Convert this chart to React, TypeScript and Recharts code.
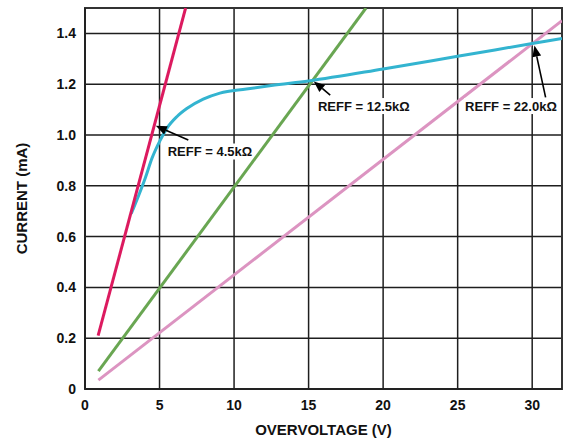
import React from "react"
import {
  LineChart,
  Line,
  XAxis,
  YAxis,
  CartesianGrid,
  ReferenceArea,
  ReferenceLine,
  ReferenceDot,
} from "recharts"

// overvoltage (V) vs current (mA)
const reff45 = [
  { x: 0.88, y: 0.21 },
  { x: 6.75, y: 1.5 },
]
const reff125 = [
  { x: 0.9, y: 0.07 },
  { x: 18.85, y: 1.5 },
]
const reff220 = [
  { x: 0.9, y: 0.035 },
  { x: 32, y: 1.45 },
]
const measured = [
  { x: 3.1, y: 0.69 },
  { x: 3.6, y: 0.762 },
  { x: 4.05, y: 0.832 },
  { x: 4.49, y: 0.908 },
  { x: 5.05, y: 0.98 },
  { x: 5.49, y: 1.026 },
  { x: 6.16, y: 1.072 },
  { x: 6.83, y: 1.104 },
  { x: 7.93, y: 1.141 },
  { x: 9.05, y: 1.165 },
  { x: 10.83, y: 1.181 },
  { x: 12.5, y: 1.195 },
  { x: 15, y: 1.213 },
  { x: 20, y: 1.26 },
  { x: 25, y: 1.31 },
  { x: 30, y: 1.36 },
  { x: 32, y: 1.38 },
]

const xTicks = [0, 5, 10, 15, 20, 25, 30]
const yTicks = [0, 0.2, 0.4, 0.6, 0.8, 1.0, 1.2, 1.4]

// annotation text, where the text starts, and arrow tail -> tip
const notes = [
  { text: "REFF = 4.5kΩ", x: 5.55, y: 0.935, from: { x: 6.93, y: 0.98 }, to: { x: 4.75, y: 1.036 } },
  { text: "REFF = 12.5kΩ", x: 15.63, y: 1.114, from: { x: 16.45, y: 1.157 }, to: { x: 15.35, y: 1.211 } },
  { text: "REFF = 22.0kΩ", x: 25.5, y: 1.114, from: { x: 30.9, y: 1.148 }, to: { x: 30.15, y: 1.352 } },
]

const FONT = "'Liberation Sans', Arial, sans-serif"

const Arrow = (props: any) => {
  const { x1, y1, x2, y2 } = props
  const ang = Math.atan2(y2 - y1, x2 - x1)
  const len = 11
  const w = 4.5
  const bx = x2 - len * Math.cos(ang)
  const by = y2 - len * Math.sin(ang)
  const px = -Math.sin(ang) * w
  const py = Math.cos(ang) * w
  return (
    <g>
      <line x1={x1} y1={y1} x2={bx} y2={by} stroke="#000" strokeWidth={1.6} />
      <polygon points={`${x2},${y2} ${bx + px},${by + py} ${bx - px},${by - py}`} fill="#000" />
    </g>
  )
}

const NoteLabel = (text: string) => (props: any) => {
  const { cx, cy } = props
  return (
    <g>
      <rect x={cx - 1} y={cy - 8} width={text.length * 6.9} height={16} fill="#fff" />
      <text x={cx} y={cy} dy="0.36em" fontSize={13} fontWeight="bold" fontFamily={FONT} fill="#111">
        {text}
      </text>
    </g>
  )
}

export default function App() {
  return (
    <div style={{ position: "absolute", left: 0, top: 0, background: "#fff" }}>
      <LineChart width={564} height={443} margin={{ top: 8, right: 2, bottom: 0, left: 0 }}>
        <CartesianGrid stroke="#1e1e1e" strokeWidth={1.5} />
        <XAxis
          type="number"
          dataKey="x"
          domain={[0, 32]}
          ticks={xTicks}
          allowDataOverflow
          height={54}
          tickSize={0}
          tickMargin={11}
          axisLine={{ stroke: "#222", strokeWidth: 2 }}
          tick={{ fontSize: 14, fontWeight: "bold", fontFamily: FONT, fill: "#111" }}
          label={{
            value: "OVERVOLTAGE (V)",
            position: "center",
            dy: 14,
            style: { fontSize: 15, fontWeight: "bold", fontFamily: FONT, fill: "#111" },
          }}
        />
        <YAxis
          type="number"
          dataKey="y"
          domain={[0, 1.5]}
          ticks={yTicks}
          allowDataOverflow
          width={85}
          tickSize={0}
          tickMargin={9}
          axisLine={{ stroke: "#222", strokeWidth: 2 }}
          tickFormatter={(v: number) => (v === 0 ? "0" : v.toFixed(1))}
          tick={{ fontSize: 14, fontWeight: "bold", fontFamily: FONT, fill: "#111" }}
          label={{
            value: "CURRENT (mA)",
            angle: -90,
            position: "center",
            dx: -21,
            style: { fontSize: 15, fontWeight: "bold", fontFamily: FONT, fill: "#111" },
          }}
        />
        <ReferenceArea x1={0} x2={32} y1={0} y2={1.5} fill="none" stroke="#333" strokeWidth={2} />
        {notes.map((n) => (
          <ReferenceDot key={n.text} x={n.x} y={n.y} r={0} shape={NoteLabel(n.text)} />
        ))}
        <Line data={reff220} dataKey="y" stroke="#dc94c1" strokeWidth={3} dot={false} isAnimationActive={false} />
        <Line data={reff125} dataKey="y" stroke="#69a652" strokeWidth={3} dot={false} isAnimationActive={false} />
        <Line data={measured} dataKey="y" type="monotone" stroke="#33b4d0" strokeWidth={3} dot={false} isAnimationActive={false} />
        <Line data={reff45} dataKey="y" stroke="#dc1a5f" strokeWidth={3} dot={false} isAnimationActive={false} />
        {notes.map((n) => (
          <ReferenceLine key={n.text + "a"} segment={[n.from, n.to]} shape={Arrow} />
        ))}
      </LineChart>
    </div>
  )
}
